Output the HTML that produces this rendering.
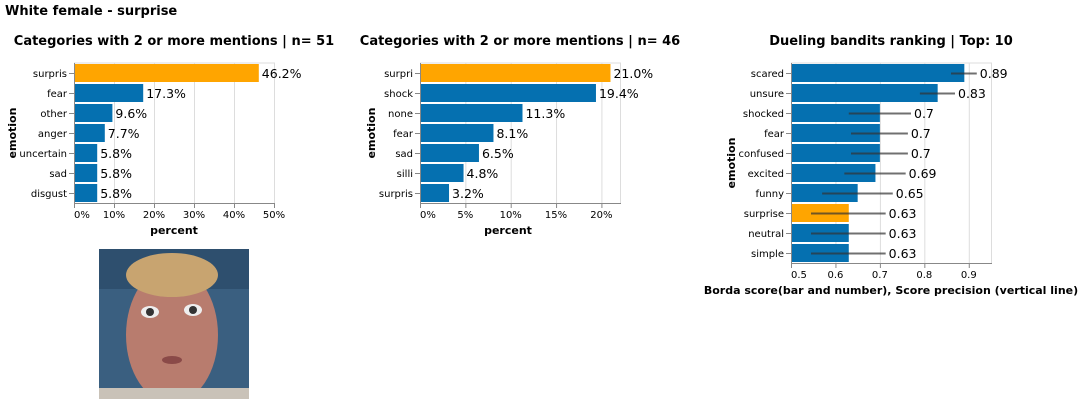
<!DOCTYPE html>
<html><head><meta charset="utf-8"><style>
body{margin:0;width:1084px;height:405px;background:#fff;overflow:hidden;font-family:"DejaVu Sans","Liberation Sans",sans-serif}
svg text{font-family:"DejaVu Sans","Liberation Sans",sans-serif}
</style></head><body>
<svg id="s" width="1084" height="405">
<defs><clipPath id="fc"><rect x="99" y="249" width="150" height="150"/></clipPath></defs>
<text x="5" y="15" font-size="13" font-weight="bold">White female - surprise</text>
<g clip-path="url(#fc)">
<rect x="99" y="249" width="150" height="150" fill="#3a5f80"/>
<rect x="99" y="249" width="150" height="40" fill="#2e4f6e"/>
<ellipse cx="172" cy="335" rx="46" ry="68" fill="#b87c6e"/>
<ellipse cx="172" cy="275" rx="46" ry="22" fill="#c8a470"/>
<ellipse cx="150" cy="312" rx="9" ry="6" fill="#eee"/><circle cx="150" cy="312" r="4" fill="#333"/>
<ellipse cx="193" cy="310" rx="9" ry="6" fill="#eee"/><circle cx="193" cy="310" r="4" fill="#333"/>
<ellipse cx="172" cy="360" rx="10" ry="4" fill="#8a4a48"/>
<rect x="99" y="388" width="150" height="11" fill="#c9c2b8"/>
</g>
</svg>
<script>
const c1Cats=["surpris","fear","other","anger","uncertain","sad","disgust"];
const c1Vals=[46.2,17.3,9.6,7.7,5.8,5.8,5.8];
const c1Ticks=[0,10,20,30,40,50];
const c2Cats=["surpri","shock","none","fear","sad","silli","surpris"];
const c2Vals=[21.0,19.4,11.3,8.1,6.5,4.8,3.2];
const c2Ticks=[0,5,10,15,20];
const c3Cats=["scared","unsure","shocked","fear","confused","excited","funny","surprise","neutral","simple"];
const c3Vals=[0.89,0.83,0.7,0.7,0.7,0.69,0.65,0.63,0.63,0.63];
const c3Lo=[0.86,0.79,0.63,0.635,0.635,0.62,0.57,0.545,0.545,0.545];
const c3Hi=[0.918,0.869,0.77,0.763,0.763,0.758,0.729,0.713,0.713,0.713];
const c3Ticks=[0.5,0.6,0.7,0.8,0.9];
const S=document.getElementById('s');const NS='http://www.w3.org/2000/svg';
function el(t,a,p){const e=document.createElementNS(NS,t);for(const k in a)e.setAttribute(k,a[k]);(p||S).appendChild(e);return e;}
function chart(o){
 const g=el('g',{});
 
 
 const x=v=>o.x0+(v-o.d0)/(o.d1-o.d0)*200;
 const top=63,bh=20,h=o.cats.length*bh;
 const t=el('text',{x:o.tx,y:45,'font-size':13,'font-weight':'bold','text-anchor':'middle'},g);t.textContent=o.title;
 
 
 o.ticks.forEach(v=>{const l=el('line',{x1:x(v)+.5,x2:x(v)+.5,y1:top,y2:top+h,stroke:'#ddd'},g);
  
  
  el('line',{x1:x(v)+.5,x2:x(v)+.5,y1:top+h,y2:top+h+5,stroke:'#888'},g);
  const tl=el('text',{x:x(v),y:top+h+15,'font-size':10,'text-anchor':v==o.ticks[0]?'start':'middle',fill:'#000'},g);tl.textContent=o.fmt(v);
  
  });
 el('line',{x1:o.x0+200.5,x2:o.x0+200.5,y1:top,y2:top+h,stroke:'#ddd'},g);
 el('line',{x1:o.x0,x2:o.x0+201,y1:top,y2:top,stroke:'#ddd'},g);
 o.cats.forEach((c,i)=>{const y=top+i*bh;
  const b=el('rect',{x:o.x0,y:y+1,width:x(o.vals[i])-o.x0,height:bh-2,fill:(c.startsWith('surpri')&&i==0)||c=='surprise'?'#ffa500':'#0570b0'},g);
  
  
  el('line',{x1:o.x0-5,x2:o.x0,y1:y+10.5,y2:y+10.5,stroke:'#888'},g);
  const cl=el('text',{x:o.x0-7,y:y+14,'font-size':10,'text-anchor':'end'},g);cl.textContent=c;
  
  
  let lx=x(o.vals[i]);
  if(o.lo){const ln=el('line',{x1:x(o.lo[i]),x2:x(o.hi[i]),y1:y+10.5,y2:y+10.5,stroke:'#333','stroke-width':2,'stroke-opacity':.7},g);
   
   lx=Math.max(lx,x(o.hi[i]));}
  const vl=el('text',{x:lx+3,y:y+15,'font-size':12.5},g);vl.textContent=o.vfmt(o.vals[i]);
  
  });
 el('line',{x1:o.x0+.5,x2:o.x0+.5,y1:top,y2:top+h,stroke:'#888'},g);
 el('line',{x1:o.x0,x2:o.x0+201,y1:top+h+.5,y2:top+h+.5,stroke:'#888'},g);
 const xt=el('text',{x:o.xtx,y:top+h+31,'font-size':11,'font-weight':'bold','text-anchor':'middle'},g);xt.textContent=o.xtitle;
 
 
 const yt=el('text',{x:0,y:0,'font-size':11,'font-weight':'bold','text-anchor':'middle',transform:`translate(${o.ytx},${top+h/2}) rotate(-90)`},g);yt.textContent='emotion';
 
 
}
const pf=v=>v+'%';const pv=v=>v.toFixed(1)+'%';
chart({name:'chart-mentions-51',cats:c1Cats,vals:c1Vals,ticks:c1Ticks,x0:74,d0:0,d1:50,title:'Categories with 2 or more mentions | n= 51',tx:174,xtitle:'percent',xtx:174,ytx:16,fmt:pf,vfmt:pv});
chart({name:'chart-mentions-46',cats:c2Cats,vals:c2Vals,ticks:c2Ticks,x0:420,d0:0,d1:22.05,title:'Categories with 2 or more mentions | n= 46',tx:520,xtitle:'percent',xtx:508,ytx:375,fmt:pf,vfmt:pv});
chart({name:'chart-dueling-bandits',cats:c3Cats,vals:c3Vals,lo:c3Lo,hi:c3Hi,ticks:c3Ticks,x0:791,d0:0.5,d1:0.95,title:'Dueling bandits ranking | Top: 10',tx:891,xtitle:'Borda score(bar and number), Score precision (vertical line)',xtx:891,ytx:735,fmt:v=>String(v),vfmt:v=>String(v)});
</script>
</body></html>
